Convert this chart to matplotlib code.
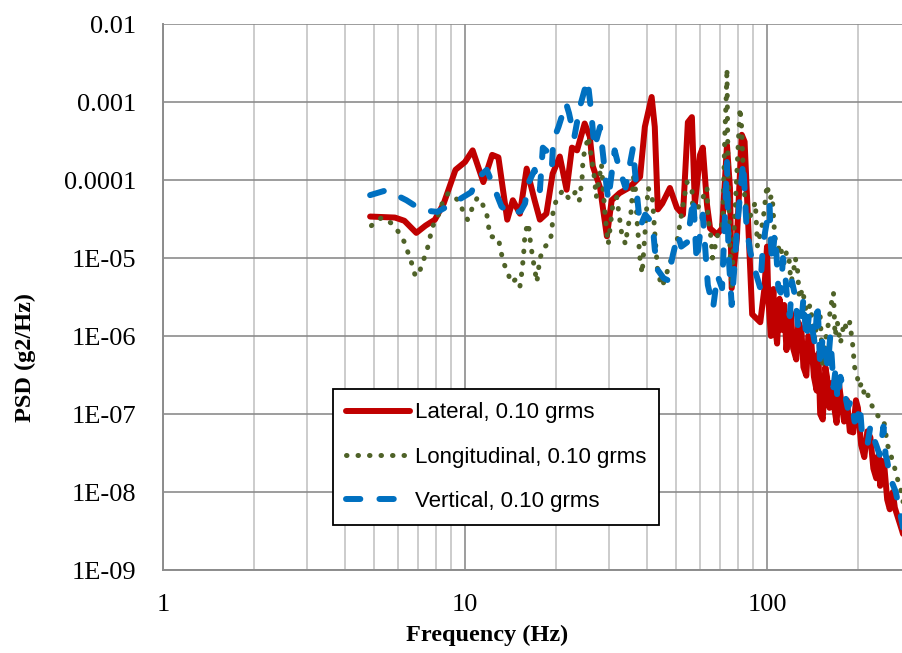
import matplotlib
matplotlib.use('Agg')
import matplotlib.pyplot as plt
from matplotlib.ticker import LogLocator, NullFormatter, NullLocator

# values (Hz, g2/Hz)
lat_f = [4.85, 5.86, 6.3, 6.9, 7.4, 7.95, 8.5, 9.3, 10.0, 10.6, 11.5, 12.3, 12.9, 13.8, 14.4,
         15.2, 16.0, 17.0, 17.7, 18.6, 19.5, 20.6, 21.7, 22.6, 23.5, 24.9, 25.9, 26.5, 28.0,
         29.5, 30.6, 32.5, 35.0, 38.0, 39.4, 41.5, 42.5, 43.5, 45.0, 47.7, 50.3, 52.7, 54.7,
         56.4, 57.7, 60.0, 61.3, 63.3, 64.8, 68.3, 71.0, 73.7, 75.4, 76.4, 79.5, 82.5, 84.3,
         86.6, 89.3, 95.0, 98.0, 100.0, 101.0, 103.0, 105.0, 106.0, 108.0, 110.0, 112.0, 114.0,
         116.0, 118.0, 120.0, 122.0, 125.0, 127.0, 130.0, 132.0, 135.0, 137.0, 140.0, 143.0,
         146.0, 148.0, 150.0, 153.0, 156.0, 158.0, 161.0, 164.0, 167.0, 170.0, 173.0, 176.0,
         180.0, 184.0, 188.0, 193.0, 197.0, 200.0, 205.0, 210.0, 215.0, 220.0, 225.0, 230.0,
         234.0, 237.0, 241.0, 245.0, 250.0, 255.0, 261.0, 265.0, 270.0, 275.0, 280.0, 290.0]
lat_psd = [3.4e-5, 3.3e-5, 3.0e-5, 2.1e-5, 2.6e-5, 3.1e-5, 5.0e-5, 1.35e-4, 1.7e-4, 2.4e-4,
           9.4e-5, 2.1e-4, 1.95e-4, 3.1e-5, 5.5e-5, 3.7e-5, 1.4e-4, 5.5e-5, 3.1e-5, 3.7e-5,
           1.2e-4, 2.0e-4, 7.5e-5, 2.6e-4, 2.4e-4, 5.3e-4, 3.6e-4, 1.5e-4, 8.0e-5, 1.9e-5,
           5.5e-5, 6.8e-5, 8.0e-5, 1.1e-4, 4.8e-4, 1.16e-3, 4.8e-4, 4.2e-5, 5.0e-5, 7.9e-5,
           4.4e-5, 3.6e-5, 5.5e-4, 6.4e-4, 4.8e-5, 2.1e-4, 2.6e-4, 4.8e-5, 2.4e-5, 2.0e-5,
           2.4e-5, 2.8e-4, 7.9e-5, 4.1e-6, 1.8e-5, 3.8e-4, 3.1e-4, 2.9e-5, 1.9e-6, 1.5e-6,
           4.0e-6, 1.4e-5, 3.0e-6, 1.0e-6, 4.0e-6, 1.5e-6, 8.0e-7, 3.0e-6, 1.2e-6, 2.5e-6,
           6.6e-7, 1.5e-6, 2.0e-6, 7.0e-7, 5.0e-7, 1.5e-6, 1.2e-6, 4.0e-7, 3.1e-7, 1.0e-6,
           9.0e-7, 3.0e-7, 2.0e-7, 6.0e-7, 1.0e-7, 8.5e-8, 4.0e-7, 3.0e-7, 1.2e-7, 2.5e-7,
           1.2e-7, 7.7e-8, 2.5e-7, 1.5e-7, 8.0e-8, 1.5e-7, 6.0e-8, 5.8e-8, 1.5e-7, 1.2e-7,
           4.0e-8, 2.8e-8, 6.0e-8, 5.0e-8, 2.0e-8, 1.5e-8, 3.0e-8, 1.2e-8, 2.5e-8, 2.0e-8,
           8.0e-9, 6.0e-9, 1.0e-8, 6.3e-9, 5.0e-9, 4.0e-9, 3.2e-9, 2.0e-9]

lon_f = [4.9, 5.3, 5.7, 6.0, 6.3, 6.7, 6.85, 7.1, 7.5, 7.8, 8.2, 8.4, 8.8, 9.5, 9.8, 10.2,
         10.6, 11.0, 11.4, 11.8, 12.1, 12.9, 13.1, 13.4, 13.9, 14.2, 14.8, 15.2, 15.4, 15.6,
         15.7, 15.8, 16.2, 16.5, 16.8, 17.3, 17.7, 18.4, 19.1, 19.4, 19.6, 20.3, 21.1, 22.2,
         23.2, 23.9, 24.4, 24.6, 25.6, 26.3, 26.8, 27.2, 28.3, 29.0, 29.5, 29.8, 30.8, 31.8,
         33.0, 34.0, 34.6, 35.4, 36.4, 36.8, 37.2, 38.0, 38.6, 40.4, 41.8, 42.5, 43.5, 45.0,
         46.9, 50.3, 54.3, 56.4, 57.0, 59.2, 61.3, 63.3, 63.7, 65.3, 66.0, 68.7, 71.4, 72.5,
         73.3, 73.7, 74.2, 75.4, 76.4, 77.6, 81.4, 82.5, 83.0, 84.3, 86.6, 91.5, 93.0, 97.0,
         100.0, 102.0, 104.0, 106.0, 108.0, 110.0, 112.0, 114.0, 116.0, 118.0, 120.0, 122.0,
         124.0, 126.0, 128.0, 131.0, 135.0, 139.0, 144.0, 147.0, 150.0, 153.0, 157.0, 160.0,
         163.0, 166.0, 168.0, 171.0, 175.0, 180.0, 184.0, 188.0, 192.0, 195.0, 199.0, 202.0,
         206.0, 210.0, 214.0, 219.0, 225.0, 230.0, 236.0, 243.0, 247.0, 250.0, 255.0, 260.0,
         265.0, 270.0, 277.0, 283.0, 290.0]
lon_psd = [2.6e-5, 3.3e-5, 2.8e-5, 2.2e-5, 1.6e-5, 8.0e-6, 5.8e-6, 7.0e-6, 1.3e-5, 2.5e-5,
           3.7e-5, 5.0e-5, 6.8e-5, 5.5e-5, 4.2e-5, 3.1e-5, 4.5e-5, 6.0e-5, 5.0e-5, 3.7e-5,
           1.9e-5, 1.8e-5, 1.3e-5, 8.8e-6, 6.3e-6, 4.8e-6, 5.4e-6, 4.3e-6, 6.3e-6, 1.0e-5,
           1.4e-5, 2.1e-5, 2.8e-5, 1.5e-5, 9.5e-6, 4.9e-6, 1.0e-5, 1.4e-5, 1.6e-5, 2.2e-5,
           4.4e-5, 6.0e-5, 7.4e-5, 5.6e-5, 7.0e-5, 5.4e-5, 1.0e-4, 1.9e-4, 3.6e-4, 1.8e-4,
           1.1e-4, 6.0e-5, 1.6e-4, 4.2e-5, 2.1e-5, 1.5e-5, 4.5e-5, 6.0e-5, 2.1e-5, 1.5e-5,
           2.5e-5, 3.6e-5, 1.5e-4, 5.5e-5, 2.7e-5, 9.5e-6, 6.3e-6, 8.0e-5, 5.5e-5, 2.1e-5,
           6.3e-6, 4.3e-6, 7.0e-6, 1.6e-5, 9.4e-5, 7.9e-5, 2.9e-5, 4.5e-5, 5.9e-5, 8.0e-5,
           3.3e-5, 1.8e-5, 1.0e-5, 2.0e-5, 2.9e-5, 3.8e-4, 1.2e-3, 2.7e-3, 2.1e-4, 1.3e-5,
           4.1e-6, 1.8e-5, 8.4e-4, 4.5e-4, 2.1e-4, 6.4e-5, 2.9e-5, 5.2e-5, 1.4e-5, 3.0e-5,
           8.7e-5, 5.7e-5, 6.4e-5, 2.0e-5, 1.1e-5, 1.5e-5, 1.15e-5, 8.5e-6, 1.2e-5, 1.1e-5,
           5.0e-6, 6.0e-6, 1.0e-5, 7.8e-6, 3.0e-6, 4.0e-6, 2.0e-6, 2.5e-6, 9.0e-7, 2.0e-6,
           1.8e-6, 4.0e-7, 1.0e-6, 1.5e-6, 2.5e-6, 3.6e-6, 1.0e-6, 1.5e-6, 8.0e-7, 1.5e-6,
           1.2e-6, 1.5e-6, 8.0e-7, 4.0e-7, 3.0e-7, 2.2e-7, 2.5e-7, 1.8e-7, 2.0e-7, 1.4e-7,
           1.2e-7, 1.0e-7, 9.0e-8, 8.6e-8, 6.0e-8, 4.0e-8, 3.5e-8, 2.5e-8, 2.0e-8, 1.5e-8,
           1.1e-8, 7.0e-9, 5.0e-9]

ver_f = [4.85, 5.5, 6.4, 7.2, 8.1, 9.1, 10.5, 11.0, 11.8, 12.3, 13.2, 14.1, 15.3, 15.8, 16.2,
         17.0, 17.7, 18.1, 19.0, 19.4, 19.6, 20.4, 21.6, 22.1, 23.0, 24.0, 25.4, 25.6, 26.2,
         26.8, 28.0, 29.0, 29.8, 31.3, 32.5, 34.0, 36.0, 37.0, 38.0, 39.5, 41.8, 42.5, 43.5,
         45.5, 46.9, 48.8, 50.7, 52.0, 54.5, 57.0, 58.5, 60.0, 61.3, 63.7, 66.3, 68.5, 71.0,
         72.5, 73.7, 74.5, 76.4, 79.5, 81.4, 83.4, 85.5, 88.0, 91.6, 95.0, 97.0, 100.0, 102.0,
         103.0, 104.0, 106.0, 107.0, 109.0, 111.0, 113.0, 115.0, 117.0, 119.0, 121.0, 124.0,
         127.0, 130.0, 132.0, 135.0, 138.0, 140.0, 144.0, 147.0, 150.0, 153.0, 156.0, 159.0,
         162.0, 164.0, 166.0, 169.0, 171.0, 175.0, 180.0, 185.0, 190.0, 195.0, 199.0, 203.0,
         206.0, 210.0, 215.0, 220.0, 225.0, 230.0, 236.0, 243.0, 247.0, 250.0, 256.0, 262.0,
         267.0, 272.0, 277.0, 282.0, 290.0]
ver_psd = [6.4e-5, 7.4e-5, 5.5e-5, 4.1e-5, 3.9e-5, 5.0e-5, 7.0e-5, 1.05e-4, 1.35e-4, 9.2e-5,
           4.6e-5, 3.6e-5, 4.0e-5, 5.0e-5, 9.0e-5, 1.35e-4, 7.4e-5, 2.6e-4, 2.2e-4, 1.5e-4,
           3.2e-4, 4.8e-4, 9.7e-4, 7.2e-4, 3.5e-4, 8.6e-4, 1.9e-3, 1.6e-3, 7.2e-4, 2.6e-4,
           4.8e-4, 1.35e-4, 5.5e-5, 2.4e-4, 1.35e-4, 8.0e-5, 2.6e-4, 7.4e-5, 2.5e-5, 3.6e-5,
           2.8e-5, 1.3e-5, 7.0e-6, 5.5e-6, 5.2e-6, 1.1e-5, 2.0e-5, 1.4e-5, 1.6e-5, 5.9e-5,
           9.0e-6, 2.0e-5, 3.6e-5, 4.5e-6, 2.3e-6, 6.0e-6, 4.1e-6, 3.2e-5, 1.7e-4, 1.2e-5,
           2.5e-6, 2.2e-5, 6.4e-5, 1.7e-4, 2.6e-5, 1.2e-5, 6.6e-6, 4.1e-6, 1.5e-5, 3.0e-5,
           4.8e-5, 1.5e-5, 8.8e-6, 2.0e-5, 1.5e-5, 4.1e-6, 3.6e-6, 1.0e-5, 6.0e-6, 2.5e-6,
           1.8e-6, 5.0e-6, 3.2e-6, 1.2e-6, 1.5e-6, 3.0e-6, 9.0e-7, 2.0e-6, 1.5e-6, 8.0e-7,
           2.7e-6, 4.0e-7, 1.0e-6, 6.0e-7, 4.0e-7, 1.0e-6, 5.0e-7, 2.2e-7, 4.0e-7, 1.5e-7,
           3.0e-7, 2.0e-7, 1.2e-7, 1.5e-7, 8.0e-8, 8.6e-8, 1.3e-7, 6.0e-8, 5.0e-8, 4.0e-8,
           7.0e-8, 5.0e-8, 4.0e-8, 3.0e-8, 6.9e-8, 3.0e-8, 2.5e-8, 1.5e-8, 1.2e-8, 1.0e-8,
           7.0e-9, 5.0e-9, 3.5e-9, 2.2e-9]

series_labels = ['Lateral, 0.10 grms', 'Longitudinal, 0.10 grms', 'Vertical, 0.10 grms']
ytick_vals = [1e-9, 1e-8, 1e-7, 1e-6, 1e-5, 1e-4, 1e-3, 1e-2]
ytick_labels = ['1E-09', '1E-08', '1E-07', '1E-06', '1E-05', '0.0001', '0.001', '0.01']
xtick_vals = [1, 10, 100]
xtick_labels = ['1', '10', '100']

serif = 'Liberation Serif'
W, H = 903, 653
fig = plt.figure(figsize=(W / 100, H / 100), dpi=100)
ax = fig.add_axes([163 / W, 1 - 570 / H, (W - 163) / W, (570 - 24) / H])
ax.set_xscale('log')
ax.set_yscale('log')

ax.plot(lat_f, lat_psd, color='#C00000', lw=4.3, solid_joinstyle='round',
        solid_capstyle='round', label=series_labels[0], zorder=3)
ax.plot(lon_f, lon_psd, color='#4F6228', lw=3.6, linestyle=(0, (0.1, 2.2)),
        dash_capstyle='round', label=series_labels[1], zorder=4)
ax.plot(ver_f, ver_psd, color='#0070C0', lw=4.3, linestyle=(0, (2.4, 3.2)),
        dash_capstyle='round', label=series_labels[2], zorder=5)

ax.set_xlim(1, 10 ** ((W - 163) / 302))
ax.set_ylim(1e-9, 1e-2)

ax.set_xticks(xtick_vals)
ax.set_xticklabels(xtick_labels)
ax.xaxis.set_minor_locator(LogLocator(base=10, subs=range(2, 10)))
ax.xaxis.set_minor_formatter(NullFormatter())
ax.set_yticks(ytick_vals)
ax.set_yticklabels(ytick_labels)
ax.yaxis.set_minor_locator(NullLocator())
ax.tick_params(which='both', length=0)
ax.tick_params(axis='x', pad=17)
ax.tick_params(axis='y', pad=19)
for lbl in ax.get_xticklabels() + ax.get_yticklabels():
    lbl.set_fontfamily(serif)
    lbl.set_fontsize(19)

ax.grid(True, which='major', color='#8C8C8C', lw=1.2)
ax.grid(True, which='minor', axis='x', color='#C4C4C4', lw=1.2)
ax.set_axisbelow(True)
for side in ['top', 'right']:
    ax.spines[side].set_visible(False)
for side in ['left', 'bottom']:
    ax.spines[side].set_color('#8C8C8C')
    ax.spines[side].set_linewidth(1.4)

ax.set_xlabel('Frequency (Hz)', fontfamily=serif, fontweight='bold', fontsize=17.5)
ax.set_ylabel('PSD (g2/Hz)', fontfamily=serif, fontweight='bold', fontsize=17.5)
ax.xaxis.set_label_coords((487 - 163) / (W - 163), -(635 - 570) / 546)
ax.xaxis.label.set_va('center')
ax.yaxis.set_label_coords(-(163 - 25) / (W - 163), (570 - 357) / 546)
ax.yaxis.label.set_va('center')

leg = ax.legend(loc='upper left', bbox_to_anchor=(333 / W, 1 - 389 / H),
                bbox_transform=fig.transFigure, borderaxespad=0, fancybox=False,
                edgecolor='black', framealpha=1, handlelength=2.85, handletextpad=0.22,
                labelspacing=1.05, borderpad=0.6,
                prop={'family': 'Liberation Sans', 'size': 16})
leg.get_frame().set_linewidth(1.3)

fig.savefig('out.png', dpi=100)
